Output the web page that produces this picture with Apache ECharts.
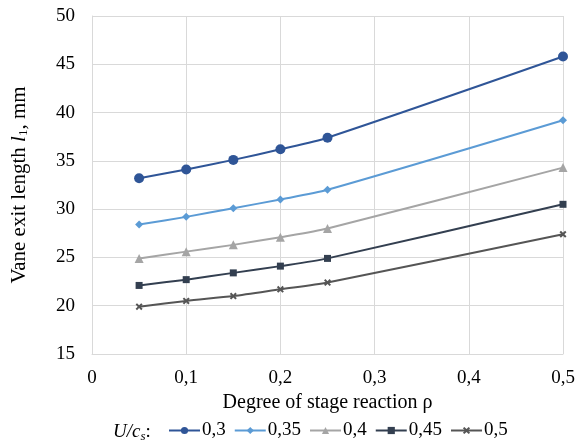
<!DOCTYPE html>
<html><head><meta charset="utf-8">
<script src="https://cdn.jsdelivr.net/npm/echarts@6/dist/echarts.min.js"></script>
<style>html,body{margin:0;padding:0;background:#fff}#c{width:578px;height:444px}</style>
</head><body><div id="c"></div>
<script>
const rho = [0.05, 0.1, 0.15, 0.2, 0.25, 0.5];
const seriesNames = ['0,3', '0,35', '0,4', '0,45', '0,5'];
const s03 = [33.2, 34.1, 35.1, 36.2, 37.4, 45.8];
const s035 = [28.4, 29.2, 30.1, 31.0, 32.0, 39.2];
const s04 = [24.9, 25.6, 26.3, 27.1, 28.0, 34.3];
const s045 = [22.1, 22.7, 23.4, 24.1, 24.9, 30.5];
const s05 = [19.9, 20.5, 21.0, 21.7, 22.4, 27.4];
const colors = ['#2F5597', '#5B9BD5', '#A5A5A5', '#333F50', '#555555'];
const symbols = ['circle', 'diamond', 'triangle', 'rect',
  'path://M0,2L2,0L5,3L8,0L10,2L7,5L10,8L8,10L5,7L2,10L0,8L3,5Z'];
const sizes = [10, 8, 9, 7, 7];
const allData = [s03, s035, s04, s045, s05];
const font = 'Liberation Serif, Times New Roman, serif';

const chart = echarts.init(document.getElementById('c'), null, {renderer: 'canvas'});
chart.setOption({
  animation: false,
  color: colors,
  textStyle: {fontFamily: font},
  grid: {left: 92, right: 15, top: 16, bottom: 90},
  xAxis: {
    type: 'value', min: 0, max: 0.5, interval: 0.1,
    name: 'Degree of stage reaction ρ', nameLocation: 'middle', nameGap: 38,
    nameTextStyle: {fontFamily: font, fontSize: 20, color: '#000'},
    axisLine: {show: true, lineStyle: {color: '#d9d9d9', width: 1}},
    axisTick: {show: false},
    axisLabel: {fontFamily: font, fontSize: 19, color: '#000', margin: 15,
      formatter: v => String(Math.round(v * 10) / 10).replace('.', ',')},
    splitLine: {show: true, lineStyle: {color: '#d9d9d9', width: 1}}
  },
  yAxis: {
    type: 'value', min: 15, max: 50, interval: 5,
    name: '{n|Vane exit length }{i|l}{sub|1}{n|, mm}', nameLocation: 'middle', nameGap: 62,
    nameTextStyle: {fontFamily: font, fontSize: 21, color: '#000',
      rich: {
        n: {fontFamily: font, fontSize: 21, color: '#000'},
        i: {fontFamily: font, fontSize: 21, color: '#000', fontStyle: 'italic'},
        sub: {fontFamily: font, fontSize: 13, color: '#000', padding: [9, 0, 0, 0]}
      }},
    axisLine: {show: true, lineStyle: {color: '#d9d9d9', width: 1}},
    axisTick: {show: false},
    axisLabel: {fontFamily: font, fontSize: 19, color: '#000', margin: 17},
    splitLine: {show: true, lineStyle: {color: '#d9d9d9', width: 1}}
  },
  legend: {
    left: 163, bottom: -1, itemWidth: 31, itemHeight: 9, itemGap: 8,
    textStyle: {fontFamily: font, fontSize: 19, color: '#000', padding: [0, 0, 0, -3]},
    data: seriesNames
  },
  graphic: [{
    type: 'text', left: 113, bottom: 1,
    style: {
      text: '{i|U/c}{sub|s}{n|:}',
      rich: {
        i: {fontFamily: font, fontSize: 19, fontStyle: 'italic', fill: '#000'},
        sub: {fontFamily: font, fontSize: 13, fontStyle: 'italic', fill: '#000', padding: [9, 0, 0, 0]},
        n: {fontFamily: font, fontSize: 19, fill: '#000'}
      }
    }
  }],
  series: allData.map((d, k) => ({
    name: seriesNames[k], type: 'line', smooth: 0.25,
    data: rho.map((x, j) => [x, d[j]]),
    symbol: symbols[k], symbolSize: sizes[k], showSymbol: true,
    lineStyle: {color: colors[k], width: 2},
    itemStyle: {color: colors[k]}
  }))
});
</script></body></html>
